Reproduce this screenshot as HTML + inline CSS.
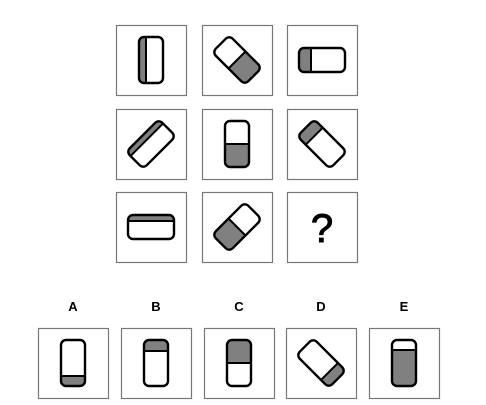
<!DOCTYPE html>
<html><head><meta charset="utf-8"><style>
html,body{margin:0;padding:0;background:#fff;}
svg{display:block;}
text{font-family:"Liberation Sans",sans-serif;}
</style></head><body>
<svg width="486" height="405" viewBox="0 0 486 405">
<defs>
<clipPath id="er" clipPathUnits="userSpaceOnUse"><rect x="-12" y="-23" width="24" height="46" rx="5"/></clipPath>
</defs>
<g fill="none" stroke="#777" stroke-width="1.2">
<rect x="116.5" y="25.5" width="70" height="70"/>
<rect x="202.5" y="25.5" width="70" height="70"/>
<rect x="287.5" y="25.5" width="70" height="70"/>
<rect x="116.5" y="109.5" width="70" height="70"/>
<rect x="202.5" y="109.5" width="70" height="70"/>
<rect x="287.5" y="109.5" width="70" height="70"/>
<rect x="116.5" y="192.5" width="70" height="70"/>
<rect x="202.5" y="192.5" width="70" height="70"/>
<rect x="287.5" y="192.5" width="70" height="70"/>
<rect x="38.5" y="328.5" width="70" height="70"/>
<rect x="121.5" y="328.5" width="70" height="70"/>
<rect x="204.5" y="328.5" width="70" height="70"/>
<rect x="286.5" y="328.5" width="70" height="70"/>
<rect x="369.5" y="328.5" width="70" height="70"/>
</g>

<g transform="translate(151,60)">
<rect x="-12" y="-23" width="24" height="46" rx="5" fill="#fff"/>
<rect x="-12" y="-23" width="7" height="46" fill="#808080" clip-path="url(#er)"/>
<line x1="-5" y1="-23" x2="-5" y2="23" stroke="#000" stroke-width="2"/>
<rect x="-12" y="-23" width="24" height="46" rx="5" fill="none" stroke="#000" stroke-width="2.4"/>
</g>
<g transform="translate(237,60) rotate(-45)">
<rect x="-12" y="-23" width="24" height="46" rx="5" fill="#fff"/>
<rect x="-12" y="0" width="24" height="23" fill="#808080" clip-path="url(#er)"/>
<line x1="-12" y1="0" x2="12" y2="0" stroke="#000" stroke-width="2"/>
<rect x="-12" y="-23" width="24" height="46" rx="5" fill="none" stroke="#000" stroke-width="2.4"/>
</g>
<g transform="translate(322,60) rotate(90)">
<rect x="-12" y="-23" width="24" height="46" rx="5" fill="#fff"/>
<rect x="-12" y="11" width="24" height="12" fill="#808080" clip-path="url(#er)"/>
<line x1="-12" y1="11" x2="12" y2="11" stroke="#000" stroke-width="2"/>
<rect x="-12" y="-23" width="24" height="46" rx="5" fill="none" stroke="#000" stroke-width="2.4"/>
</g>
<g transform="translate(151,144) rotate(45)">
<rect x="-12" y="-23" width="24" height="46" rx="5" fill="#fff"/>
<rect x="-12" y="-23" width="6" height="46" fill="#808080" clip-path="url(#er)"/>
<line x1="-6" y1="-23" x2="-6" y2="23" stroke="#000" stroke-width="2"/>
<rect x="-12" y="-23" width="24" height="46" rx="5" fill="none" stroke="#000" stroke-width="2.4"/>
</g>
<g transform="translate(237,144)">
<rect x="-12" y="-23" width="24" height="46" rx="5" fill="#fff"/>
<rect x="-12" y="0" width="24" height="23" fill="#808080" clip-path="url(#er)"/>
<line x1="-12" y1="0" x2="12" y2="0" stroke="#000" stroke-width="2"/>
<rect x="-12" y="-23" width="24" height="46" rx="5" fill="none" stroke="#000" stroke-width="2.4"/>
</g>
<g transform="translate(322,144) rotate(-45)">
<rect x="-12" y="-23" width="24" height="46" rx="5" fill="#fff"/>
<rect x="-12" y="-23" width="24" height="12" fill="#808080" clip-path="url(#er)"/>
<line x1="-12" y1="-11" x2="12" y2="-11" stroke="#000" stroke-width="2"/>
<rect x="-12" y="-23" width="24" height="46" rx="5" fill="none" stroke="#000" stroke-width="2.4"/>
</g>
<g transform="translate(151,227) rotate(90)">
<rect x="-12" y="-23" width="24" height="46" rx="5" fill="#fff"/>
<rect x="-12" y="-23" width="6" height="46" fill="#808080" clip-path="url(#er)"/>
<line x1="-6" y1="-23" x2="-6" y2="23" stroke="#000" stroke-width="2"/>
<rect x="-12" y="-23" width="24" height="46" rx="5" fill="none" stroke="#000" stroke-width="2.4"/>
</g>
<g transform="translate(237,227) rotate(45)">
<rect x="-12" y="-23" width="24" height="46" rx="5" fill="#fff"/>
<rect x="-12" y="0" width="24" height="23" fill="#808080" clip-path="url(#er)"/>
<line x1="-12" y1="0" x2="12" y2="0" stroke="#000" stroke-width="2"/>
<rect x="-12" y="-23" width="24" height="46" rx="5" fill="none" stroke="#000" stroke-width="2.4"/>
</g>
<text x="322" y="242" font-size="40" text-anchor="middle" fill="#000" stroke="#000" stroke-width="1">?</text>

<g font-size="13" font-weight="bold" text-anchor="middle" fill="#000">
<text x="73" y="311">A</text>
<text x="156" y="311">B</text>
<text x="239" y="311">C</text>
<text x="321" y="311">D</text>
<text x="404" y="311">E</text>
</g>

<g transform="translate(73,363)">
<rect x="-12" y="-23" width="24" height="46" rx="5" fill="#fff"/>
<rect x="-12" y="13" width="24" height="10" fill="#808080" clip-path="url(#er)"/>
<line x1="-12" y1="13" x2="12" y2="13" stroke="#000" stroke-width="2"/>
<rect x="-12" y="-23" width="24" height="46" rx="5" fill="none" stroke="#000" stroke-width="2.4"/>
</g>
<g transform="translate(156,363)">
<rect x="-12" y="-23" width="24" height="46" rx="5" fill="#fff"/>
<rect x="-12" y="-23" width="24" height="11" fill="#808080" clip-path="url(#er)"/>
<line x1="-12" y1="-12" x2="12" y2="-12" stroke="#000" stroke-width="2"/>
<rect x="-12" y="-23" width="24" height="46" rx="5" fill="none" stroke="#000" stroke-width="2.4"/>
</g>
<g transform="translate(239,363)">
<rect x="-12" y="-23" width="24" height="46" rx="5" fill="#fff"/>
<rect x="-12" y="-23" width="24" height="23" fill="#808080" clip-path="url(#er)"/>
<line x1="-12" y1="0" x2="12" y2="0" stroke="#000" stroke-width="2"/>
<rect x="-12" y="-23" width="24" height="46" rx="5" fill="none" stroke="#000" stroke-width="2.4"/>
</g>
<g transform="translate(321,363) rotate(-45)">
<rect x="-12" y="-23" width="24" height="46" rx="5" fill="#fff"/>
<rect x="-12" y="12" width="24" height="11" fill="#808080" clip-path="url(#er)"/>
<line x1="-12" y1="12" x2="12" y2="12" stroke="#000" stroke-width="2"/>
<rect x="-12" y="-23" width="24" height="46" rx="5" fill="none" stroke="#000" stroke-width="2.4"/>
</g>
<g transform="translate(404,363)">
<rect x="-12" y="-23" width="24" height="46" rx="5" fill="#fff"/>
<rect x="-12" y="-13" width="24" height="36" fill="#808080" clip-path="url(#er)"/>
<line x1="-12" y1="-13" x2="12" y2="-13" stroke="#000" stroke-width="2"/>
<rect x="-12" y="-23" width="24" height="46" rx="5" fill="none" stroke="#000" stroke-width="2.4"/>
</g>
</svg>
</body></html>
